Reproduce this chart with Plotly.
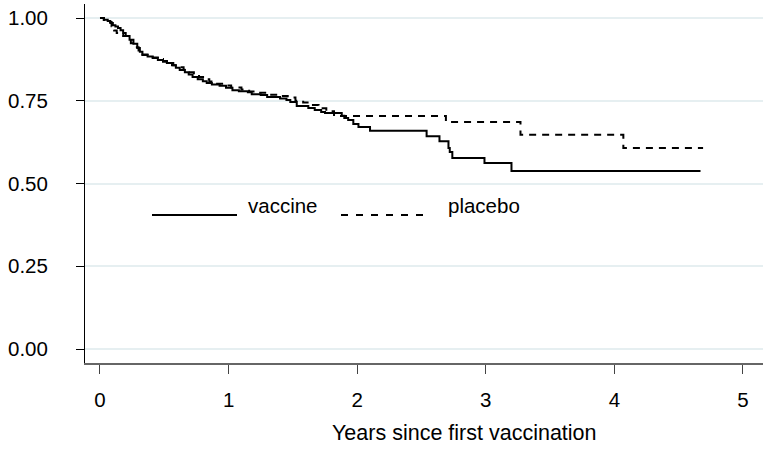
import plotly.graph_objects as go

# Kaplan-Meier step data
vacc_t = [0, 0.03, 0.06, 0.08, 0.10, 0.12, 0.14, 0.16, 0.18, 0.20, 0.23, 0.26, 0.29, 0.31, 0.33,
          0.37, 0.41, 0.45, 0.49, 0.52, 0.56, 0.59, 0.62, 0.66, 0.69, 0.72, 0.76, 0.80, 0.83, 0.87,
          0.93, 0.98, 1.03, 1.08, 1.15, 1.18, 1.25, 1.30, 1.40, 1.45, 1.48, 1.53, 1.62, 1.67, 1.72,
          1.75, 1.88, 1.90, 1.93, 1.97, 2.01, 2.10, 2.54, 2.64, 2.71, 2.72, 2.74, 2.99, 3.20, 4.67]
vacc_s = [1.0, 0.995, 0.991, 0.985, 0.978, 0.974, 0.970, 0.963, 0.955, 0.946, 0.934, 0.922, 0.909, 0.898, 0.888,
          0.884, 0.879, 0.873, 0.868, 0.864, 0.857, 0.850, 0.843, 0.836, 0.829, 0.822, 0.815, 0.809, 0.804, 0.799,
          0.795, 0.789, 0.782, 0.779, 0.776, 0.770, 0.767, 0.761, 0.757, 0.752, 0.746, 0.734, 0.728, 0.722, 0.716,
          0.713, 0.705, 0.698, 0.692, 0.680, 0.671, 0.659, 0.643, 0.628, 0.607, 0.595, 0.577, 0.562, 0.538, 0.538]

plac_t = [0, 0.03, 0.06, 0.09, 0.11, 0.13, 0.15, 0.18, 0.21, 0.24, 0.27, 0.30, 0.33, 0.37, 0.41,
          0.45, 0.49, 0.53, 0.57, 0.61, 0.65, 0.69, 0.73, 0.77, 0.81, 0.85, 0.90, 0.96, 1.02, 1.10,
          1.16, 1.22, 1.30, 1.38, 1.46, 1.52, 1.58, 1.64, 1.70, 1.76, 1.82, 2.69, 3.27, 4.07, 4.69]
plac_s = [1.0, 0.994, 0.988, 0.975, 0.962, 0.955, 0.950, 0.946, 0.937, 0.924, 0.912, 0.899, 0.890, 0.886, 0.881,
          0.876, 0.870, 0.864, 0.857, 0.851, 0.844, 0.836, 0.829, 0.822, 0.815, 0.808, 0.801, 0.796, 0.790, 0.784,
          0.778, 0.774, 0.768, 0.764, 0.760, 0.750, 0.745, 0.737, 0.727, 0.718, 0.704, 0.686, 0.647, 0.607, 0.607]

x_ticks = [0, 1, 2, 3, 4, 5]
y_ticks = [0.0, 0.25, 0.5, 0.75, 1.0]
y_tick_labels = ["0.00", "0.25", "0.50", "0.75", "1.00"]
series_names = ["vaccine", "placebo"]
x_title = "Years since first vaccination"

FONT = "Liberation Sans, Arial, sans-serif"
FS = 20.5

fig = go.Figure()
fig.add_trace(go.Scatter(x=plac_t, y=plac_s, mode="lines", line_shape="hv", name=series_names[1],
                         line=dict(color="black", width=2, dash="7px,6px"), showlegend=False))
fig.add_trace(go.Scatter(x=vacc_t, y=vacc_s, mode="lines", line_shape="hv", name=series_names[0],
                         line=dict(color="black", width=2), showlegend=False))

W, H = 763, 451
ml, mr, mt, mb = 85, 0, 4, 88
pw, ph = W - ml - mr, H - mt - mb

def px(xp):
    return (xp - ml) / pw

def py(yp):
    return (H - mb - yp) / ph

# legend drawn manually (long key lines as in reference)
fig.add_shape(type="line", xref="paper", yref="paper", x0=px(152), x1=px(237), y0=py(215), y1=py(215),
              line=dict(color="black", width=2))
fig.add_shape(type="line", xref="paper", yref="paper", x0=px(341), x1=px(423), y0=py(215), y1=py(215),
              line=dict(color="black", width=2, dash="7px,8px"))
fig.add_annotation(x=px(246), y=py(206), xref="paper", yref="paper", text=series_names[0],
                   showarrow=False, xanchor="left", yanchor="middle",
                   font=dict(family=FONT, size=FS, color="black"))
fig.add_annotation(x=px(446), y=py(206), xref="paper", yref="paper", text=series_names[1],
                   showarrow=False, xanchor="left", yanchor="middle",
                   font=dict(family=FONT, size=FS, color="black"))
fig.add_annotation(x=px(464), y=py(433), xref="paper", yref="paper", text=x_title,
                   showarrow=False, xanchor="center", yanchor="middle",
                   font=dict(family=FONT, size=21.5, color="black"))

fig.update_layout(
    width=W, height=H,
    margin=dict(l=ml, r=mr, t=mt, b=mb, pad=0),
    paper_bgcolor="white", plot_bgcolor="white",
    font=dict(family=FONT, size=FS, color="black"),
    xaxis=dict(range=[-0.1166, 5.156], tickvals=x_ticks, ticktext=[str(v) for v in x_ticks],
               showgrid=False, zeroline=False, showline=True, linecolor="#666666", linewidth=1.5,
               ticks="outside", ticklen=9, tickwidth=1, tickcolor="#444444", ticklabelstandoff=9),
    yaxis=dict(range=[-0.0423, 1.0423], tickvals=y_ticks, ticktext=y_tick_labels,
               showgrid=True, gridcolor="#e6eff1", gridwidth=1.5, zeroline=False,
               showline=True, linecolor="black", linewidth=1,
               ticks="outside", ticklen=8, tickwidth=1, tickcolor="black", ticklabelstandoff=24),
    showlegend=False,
)

fig.write_html("out.html", config={"displayModeBar": False},
               post_script="document.body.style.margin='0px';document.body.style.padding='0px';")
